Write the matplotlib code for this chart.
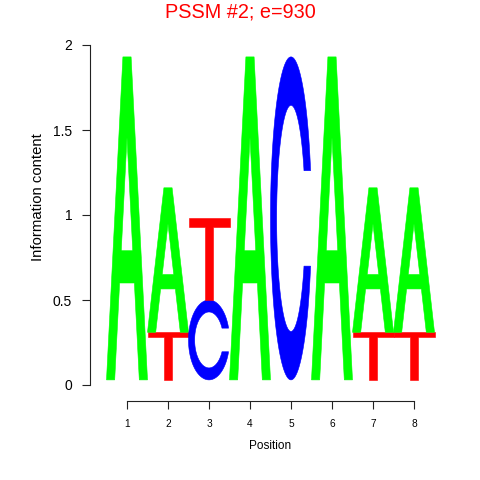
import numpy as np
import matplotlib.pyplot as plt
from matplotlib.path import Path
from matplotlib.patches import PathPatch

plt.rcParams['font.family'] = ['Liberation Sans', 'DejaVu Sans']

# motif data: letters stacked bottom -> top, heights in bits
positions = [1, 2, 3, 4, 5, 6, 7, 8]
stack_letters = [["A"], ["T", "A"], ["C", "T"], ["A"], ["C"], ["A"], ["T", "A"], ["T", "A"]]
stack_heights = [[1.90], [0.28, 0.85], [0.47, 0.48], [1.90], [1.90], [1.90], [0.28, 0.85], [0.28, 0.85]]
y_ticks = [0, 0.5, 1, 1.5, 2]
y_tick_labels = ["0", "0.5", "1", "1.5", "2"]

letter_colors = {"A": "#00FF00", "C": "#0000FF", "G": "#FFB300", "T": "#FF0000"}
baseline = 0.03


def glyph_A():
    outer_x = [0, 0.4, 0.6, 1, 0.8, 0.68, 0.32, 0.2]
    outer_y = [0, 1, 1, 0, 0, 0.3, 0.3, 0]
    hole_x = [0.64, 0.5, 0.36]
    hole_y = [0.4, 0.75, 0.4]
    return [(outer_x, outer_y), (hole_x, hole_y)]


def glyph_T():
    x = [0, 1, 1, 0.6, 0.6, 0.4, 0.4, 0]
    y = [1, 1, 0.9, 0.9, 0, 0, 0.9, 0.9]
    return [(x, y)]


def glyph_C():
    a1 = np.linspace(0.3 + np.pi / 2, np.pi, 100)
    a2 = np.linspace(np.pi, 1.5 * np.pi, 100)
    xl = np.concatenate([0.5 + 0.5 * np.sin(a1), 0.5 + 0.5 * np.sin(a2)])
    yl = np.concatenate([0.5 + 0.5 * np.cos(a1), 0.5 + 0.5 * np.cos(a2)])
    ymax = (0.5 + 0.5 * np.cos(a1)).max()
    xo = np.concatenate([xl, xl[::-1]])
    yo = np.concatenate([yl, 1 - yl[::-1]])

    xi1 = 0.5 + 0.35 * np.sin(a1)
    yi1 = 0.5 + 0.35 * np.cos(a1)
    keep = yi1 <= ymax
    xi1, yi1 = xi1[keep], yi1[keep]
    yi1[0] = ymax
    xi = np.concatenate([xi1, 0.5 + 0.35 * np.sin(a2)])
    yi = np.concatenate([yi1, 0.5 + 0.35 * np.cos(a2)])
    x1 = np.concatenate([xi, xi[::-1]])
    y1 = np.concatenate([yi, 1 - yi[::-1]])

    x = np.concatenate([xo, x1[::-1]])
    y = np.concatenate([yo, y1[::-1]])
    return [(x, y)]


glyphs = {"A": glyph_A, "C": glyph_C, "T": glyph_T}


def draw_letter(ax, letter, x0, y0, w, h):
    verts, codes = [], []
    for gx, gy in glyphs[letter]():
        pts = [(x0 + w * a, y0 + h * b) for a, b in zip(gx, gy)]
        verts += pts + [pts[0]]
        codes += [Path.MOVETO] + [Path.LINETO] * (len(pts) - 1) + [Path.CLOSEPOLY]
    col = letter_colors[letter]
    ax.add_patch(PathPatch(Path(verts, codes), facecolor=col, edgecolor=col, linewidth=0.4))


fig = plt.figure(figsize=(4.8, 4.8), dpi=100)
W = H = 480.0
ax = fig.add_axes([90 / W, 79 / H, 360 / W, 356 / H])

for pos, letters, heights in zip(positions, stack_letters, stack_heights):
    y = baseline
    for letter, h in zip(letters, heights):
        draw_letter(ax, letter, pos - 0.5, y, 1.0, h)
        y += h

ax.set_xlim(1 - 37 / 41, 1 + 323 / 41)
ax.set_ylim(-16 / 170, 2)

for s in ["top", "right"]:
    ax.spines[s].set_visible(False)
ax.spines["left"].set_bounds(0, 2)
ax.spines["bottom"].set_bounds(1, 8)
for s in ["left", "bottom"]:
    ax.spines[s].set_linewidth(0.8)
    ax.spines[s].set_color("#222222")

ax.set_yticks(y_ticks)
ax.set_yticklabels(y_tick_labels)
ax.set_xticks(positions)
ax.set_xticklabels([str(p) for p in positions])
ax.tick_params(axis="y", direction="out", length=5.8, width=0.8, color="#222222",
               labelsize=10, pad=7)
ax.tick_params(axis="x", direction="out", length=5.8, width=0.8, color="#222222",
               labelsize=7.3, pad=7.5)

fig.text(0.5, 1 - 12 / H, "PSSM #2; e=930", color="red", fontsize=14.3,
         ha="center", va="center")
fig.text(38 / W, 1 - 197 / H, "Information content", rotation=90, fontsize=10.7,
         ha="center", va="center")
fig.text(270.5 / W, 1 - 446 / H, "Position", fontsize=8.5, ha="center", va="center")

fig.savefig("out.png", dpi=100)
